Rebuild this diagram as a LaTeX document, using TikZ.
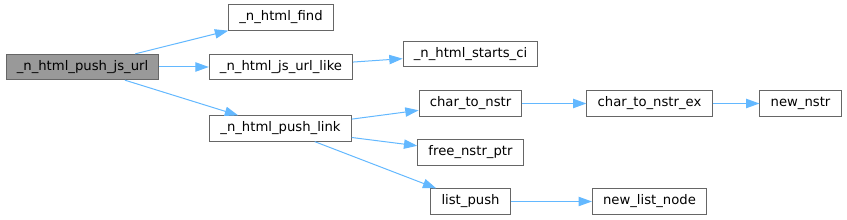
\documentclass[tikz,border=0pt]{standalone}
\usepackage{fontspec}
\setmainfont{DejaVu Sans}
\usetikzlibrary{arrows.meta}

\definecolor{edgeblue}{HTML}{63B8FF}
\definecolor{boxgray}{HTML}{666666}
\definecolor{rootgray}{HTML}{999999}

\begin{document}
\begin{tikzpicture}[x=0.75pt,y=-0.75pt,
    fn/.style={draw=boxgray,fill=white,line width=0.75pt,minimum height=19pt,
               inner xsep=8pt,inner ysep=0pt,font=\fontsize{9.9}{12}\selectfont},
    root/.style={fn,fill=rootgray},
    call/.style={edgeblue,line width=0.75pt,-{Triangle[length=10pt,width=7pt]}}]
\useasboundingbox (0,0) rectangle (847,220);

% Function boxes
\node[root] (pushjs)   at (82.5,67)    {\_n\_html\_push\_js\_url};
\node[fn]   (find)     at (281,17.5)   {\_n\_html\_find};
\node[fn]   (jslike)   at (281,67)     {\_n\_html\_js\_url\_like};
\node[fn]   (starts)   at (470.5,54)   {\_n\_html\_starts\_ci};
\node[fn]   (pushlink) at (280.5,128.5){\_n\_html\_push\_link};
\node[fn]   (c2n)      at (470.5,103.5){char\_to\_nstr};
\node[fn]   (c2nex)    at (649.5,103.5){char\_to\_nstr\_ex};
\node[fn]   (newnstr)  at (800.5,103.5){new\_nstr};
\node[fn]   (freeptr)  at (470.5,152.5){free\_nstr\_ptr};
\node[fn]   (lpush)    at (470.5,201.5){list\_push};
\node[fn]   (newnode)  at (649.5,201.5){new\_list\_node};

% Calls
\draw[call] (pushjs) -- (find);
\draw[call] (pushjs) -- (jslike);
\draw[call] (pushjs) -- (pushlink);
\draw[call] (jslike) -- (starts);
\draw[call] (pushlink) -- (c2n);
\draw[call] (pushlink) -- (freeptr);
\draw[call] (pushlink) -- (lpush);
\draw[call] (c2n) -- (c2nex);
\draw[call] (c2nex) -- (newnstr);
\draw[call] (lpush) -- (newnode);

\end{tikzpicture}
\end{document}
